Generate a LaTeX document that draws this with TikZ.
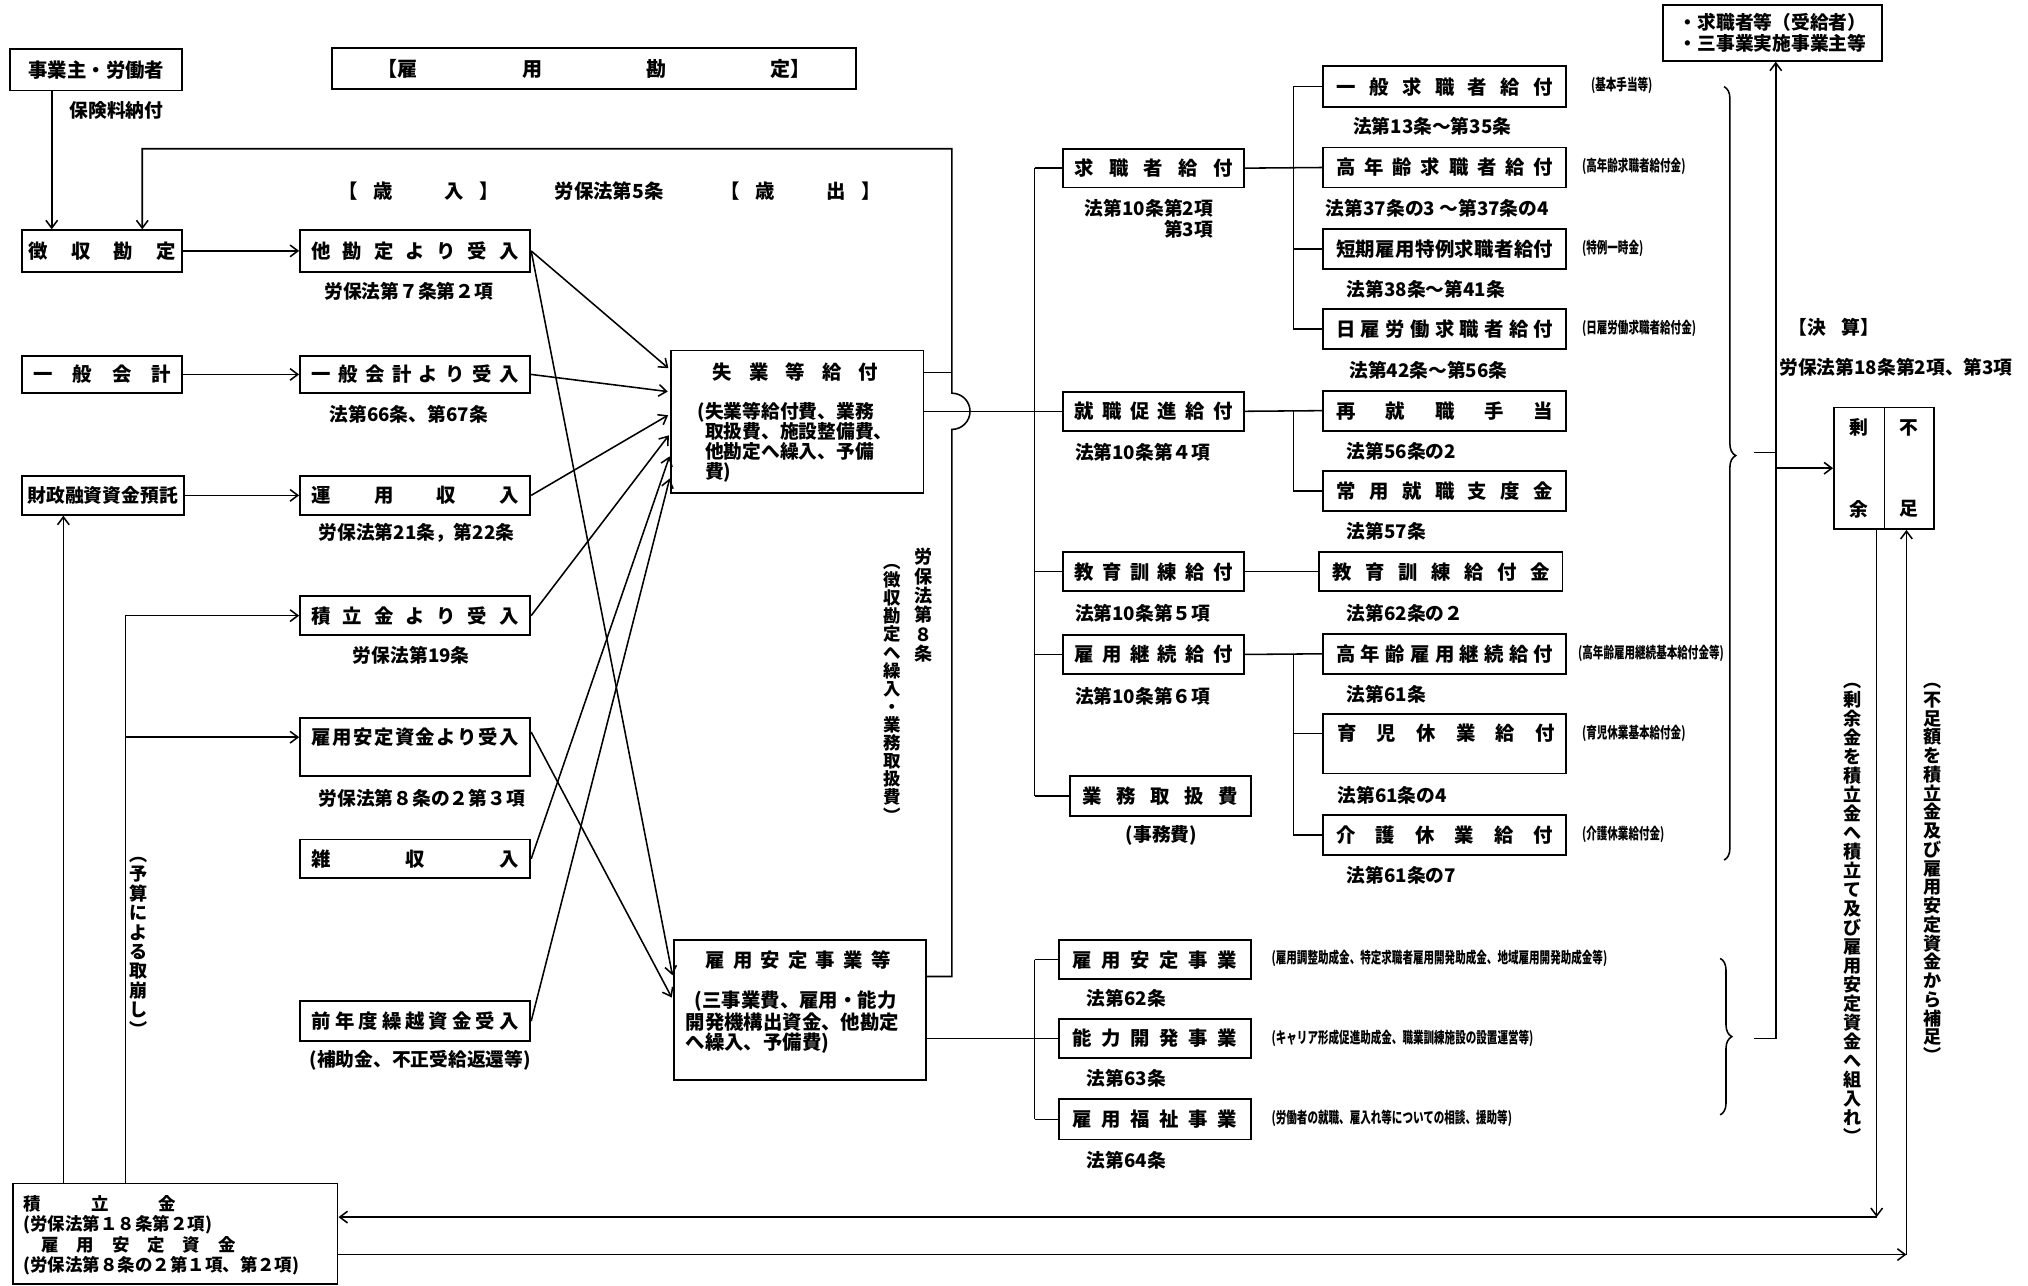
\documentclass[tikz,border=0pt]{standalone}
\usepackage{fontspec}
\setmainfont{Noto Sans CJK JP}
\usetikzlibrary{arrows.meta,decorations.pathreplacing,calc}
\def\spreadit#1{\spA#1\relax}
\def\spA#1{#1\spB}
\def\spB#1{\ifx#1\relax\else\hfill#1\expandafter\spB\fi}
\newcommand\spr[2]{\makebox[#1][s]{\spreadit{#2}}}
\def\vstA#1{\ifx#1\relax\else\hbox to 1em{\hss#1\hss}\expandafter\vstA\fi}
\newcommand\vtext[2]{\vbox{\baselineskip=#1\lineskiplimit=-100pt\lineskip=0pt\vstA#2\relax}}
\newcommand\bx[7][]{\node[bx,#1,minimum width={(#5-#3)*1pt},minimum height={(#6-#4)*1pt}] (#2) at ({(#3+#5)/2},{(#4+#6)/2}) {#7};}
\begin{document}
\bfseries
\begin{tikzpicture}[x=1pt,y=-1pt,
  bx/.style={draw,line width=1.4pt,inner sep=0pt,font=\fontsize{15}{18}\selectfont},
  lab/.style={inner sep=0pt,font=\fontsize{14.5}{16}\selectfont},
  ann/.style={inner sep=0pt,anchor=west,font=\fontsize{12}{12}\selectfont},
  vlab/.style={inner sep=0pt,font=\fontsize{14}{15}\selectfont},
  ln/.style={line width=1.2pt},
  arr/.style={line width=1.2pt,-{Straight Barb[length=6pt,width=9pt,line width=1.2pt]}},
]
\useasboundingbox (0,0) rectangle (1568,994);

% ---------- left column ----------
\bx{jg}{8}{38}{141}{70}{事業主・労働者}
\node[lab] (l_hoken) at (90,85) {保険料納付};
\bx[font=\fontsize{15.5}{18}\selectfont]{title}{257}{37}{662}{69}{\makebox[335pt][s]{【雇\hfill 用\hfill 勘\hfill 定】}}
\node[lab,font=\fontsize{15}{16}\selectfont] (l_sainyu) at (324,148) {\makebox[124pt][s]{【\hspace{12pt}歳\hfill 入\hspace{12pt}】}};
\node[lab,font=\fontsize{15}{16}\selectfont] (l_ro5) at (471,148) {労保法第5条};
\node[lab,font=\fontsize{15}{16}\selectfont] (l_saishutsu) at (619,148) {\makebox[124pt][s]{【\hspace{12pt}歳\hfill 出\hspace{12pt}】}};

\bx{choshu}{17}{178}{141}{210}{\spr{114pt}{徴収勘定}}
\bx{ippan}{17}{275}{141}{304}{\spr{106pt}{一般会計}}
\bx[font=\fontsize{14.5}{18}\selectfont]{zaisei}{17}{368}{142}{398}{\spr{117pt}{財政融資資金預託}}
\bx{tsumitate}{10}{915}{261}{993}{}
\node[inner sep=0pt,anchor=west,align=left,font=\fontsize{13.5}{15.7}\selectfont] (t_tsumitate) at (18,955) {\makebox[118pt][s]{積\hfill 立\hfill 金}\\(労保法第１８条第２項)\\\hspace{14pt}\makebox[150pt][s]{雇\hfill 用\hfill 安\hfill 定\hfill 資\hfill 金}\\(労保法第８条の２第１項、第２項)};

% ---------- revenue boxes ----------
\bx{takan}{232}{178}{410}{210}{\spr{160pt}{他勘定より受入}}
\node[lab] (s_takan) at (316,225) {労保法第７条第２項};
\bx{ippanju}{232}{275}{410}{304}{\spr{160pt}{一般会計より受入}}
\node[lab] (s_ippanju) at (316,320) {法第66条、第67条};
\bx{unyo}{232}{368}{410}{398}{\spr{160pt}{運用収入}}
\node[lab] (s_unyo) at (322,412) {労保法第21条，第22条};
\bx{tsumiju}{232}{461}{410}{491}{\spr{160pt}{積立金より受入}}
\node[lab] (s_tsumiju) at (318,507) {労保法第19条};
\bx{antei}{232}{555}{410}{600}{}
\node[inner sep=0pt,font=\fontsize{15}{18}\selectfont] (t_antei) at (321,570) {\spr{160pt}{雇用安定資金より受入}};
\node[lab] (s_antei) at (326,617) {労保法第８条の２第３項};
\bx{zatsu}{232}{649}{410}{679}{\spr{160pt}{雑収入}}
\bx{zennen}{232}{774}{410}{805}{\spr{160pt}{前年度繰越資金受入}}
\node[lab] (s_zennen) at (325,820) {(補助金、不正受給返還等)};

% ---------- expenditure boxes ----------
\bx{shitsu}{519}{271}{714}{381}{}
\node[inner sep=0pt,font=\fontsize{15}{18}\selectfont] (t_shitsu) at (615,288) {\spr{128pt}{失業等給付}};
\node[inner sep=0pt,anchor=west,align=left,font=\fontsize{14.5}{15.6}\selectfont] (b_shitsu) at (545,342) {\llap{(}失業等給付費、業務\\取扱費、施設整備費、\\他勘定へ繰入、予備\\費)};
\bx{koyoan}{521}{727}{716}{835}{}
\node[inner sep=0pt,font=\fontsize{15}{18}\selectfont] (t_koyoan) at (617,742) {\spr{143pt}{雇用安定事業等}};
\node[inner sep=0pt,anchor=west,align=left,font=\fontsize{15}{15.6}\selectfont] (b_koyoan) at (530,790) {\hspace{7pt}(三事業費、雇用・能力\\開発機構出資金、他勘定\\へ繰入、予備費)};

\node[vlab] (v_ro8) at (714,468) {\vtext{15pt}{労保法第８条}};
\node[vlab,font=\fontsize{13.5}{14}\selectfont] (v_choshu) at (690,536) {\vtext{14pt}{︵徴収勘定へ繰入・業務取扱費︶}};
\node[vlab] (v_yosan) at (107,732) {\vtext{15pt}{︵予算による取崩し︶}};

% ---------- column 2 ----------
\bx{kyushoku}{822}{115}{962}{145}{\spr{122pt}{求職者給付}}
\node[lab,anchor=east,align=right] (s_kyushoku) at (938,169) {法第10条第2項\\第3項};
\bx{shushoku}{822}{303}{962}{333}{\spr{122pt}{就職促進給付}}
\node[lab,anchor=west] (s_shushoku) at (831,350) {法第10条第４項};
\bx{kyoiku}{822}{427}{962}{457}{\spr{122pt}{教育訓練給付}}
\node[lab,anchor=west] (s_kyoiku) at (831,474) {法第10条第５項};
\bx{keizoku}{822}{491}{962}{521}{\spr{122pt}{雇用継続給付}}
\node[lab,anchor=west] (s_keizoku) at (831,538) {法第10条第６項};
\bx{gyomu}{827}{600}{967}{631}{\spr{120pt}{業務取扱費}}
\node[lab] (s_gyomu) at (898,646) {(事務費)};
\bx{anteijigyo}{819}{727}{967}{757}{\spr{127pt}{雇用安定事業}}
\node[lab,anchor=west] (s_anteijigyo) at (840,772) {法第62条};
\bx{noryoku}{819}{788}{967}{818}{\spr{127pt}{能力開発事業}}
\node[lab,anchor=west] (s_noryoku) at (840,834) {法第63条};
\bx{fukushi}{819}{850}{967}{881}{\spr{127pt}{雇用福祉事業}}
\node[lab,anchor=west] (s_fukushi) at (840,897) {法第64条};

% ---------- column 3 ----------
\bx{ippankyu}{1023}{51}{1211}{83}{\spr{168pt}{一般求職者給付}}
\node[lab,anchor=west] (s_ippankyu) at (1046,98) {法第13条～第35条};
\bx{koureikyu}{1023}{114}{1211}{145}{\spr{168pt}{高年齢求職者給付}}
\node[lab,anchor=west] (s_koureikyu) at (1025,161) {法第37条の3 ～第37条の4};
\bx{tanki}{1023}{177}{1211}{208}{\spr{168pt}{短期雇用特例求職者給付}}
\node[lab,anchor=west] (s_tanki) at (1041,224) {法第38条～第41条};
\bx{nichi}{1023}{239}{1211}{270}{\spr{168pt}{日雇労働求職者給付}}
\node[lab,anchor=west] (s_nichi) at (1043,286) {法第42条～第56条};
\bx{saishu}{1023}{302}{1211}{333}{\spr{168pt}{再就職手当}}
\node[lab,anchor=west] (s_saishu) at (1041,349) {法第56条の2};
\bx{joyo}{1023}{364}{1211}{395}{\spr{168pt}{常用就職支度金}}
\node[lab,anchor=west] (s_joyo) at (1041,411) {法第57条};
\bx{kyoikukin}{1020}{427}{1208}{457}{\spr{168pt}{教育訓練給付金}}
\node[lab,anchor=west] (s_kyoikukin) at (1041,474) {法第62条の２};
\bx{koukei}{1023}{490}{1211}{521}{\spr{168pt}{高年齢雇用継続給付}}
\node[lab,anchor=west] (s_koukei) at (1041,537) {法第61条};
\bx{ikuji}{1023}{552}{1211}{598}{}
\node[inner sep=0pt,font=\fontsize{15}{18}\selectfont] (t_ikuji) at (1118,567) {\spr{168pt}{育児休業給付}};
\node[lab,anchor=west] (s_ikuji) at (1034,615) {法第61条の4};
\bx{kaigo}{1023}{630}{1211}{661}{\spr{168pt}{介護休業給付}}
\node[lab,anchor=west] (s_kaigo) at (1041,677) {法第61条の7};

% annotations
\node[ann] (a1) at (1230,66) {\scalebox{0.68}[1]{(基本手当等)}};
\node[ann] (a2) at (1223,129) {\scalebox{0.68}[1]{(高年齢求職者給付金)}};
\node[ann] (a3) at (1223,192) {\scalebox{0.68}[1]{(特例一時金)}};
\node[ann] (a4) at (1223,254) {\scalebox{0.68}[1]{(日雇労働求職者給付金)}};
\node[ann] (a5) at (1220,505) {\scalebox{0.68}[1]{(高年齢雇用継続基本給付金等)}};
\node[ann] (a6) at (1223,567) {\scalebox{0.68}[1]{(育児休業基本給付金)}};
\node[ann] (a7) at (1223,645) {\scalebox{0.68}[1]{(介護休業給付金)}};
\node[ann] (a8) at (983,741) {\scalebox{0.68}[1]{(雇用調整助成金、特定求職者雇用開発助成金、地域雇用開発助成金等)}};
\node[ann] (a9) at (983,803) {\scalebox{0.68}[1]{(キャリア形成促進助成金、職業訓練施設の設置運営等)}};
\node[ann] (a10) at (983,865) {\scalebox{0.68}[1]{(労働者の就職、雇入れ等についての相談、援助等)}};

% ---------- right part ----------
\bx[align=left,font=\fontsize{14.5}{16.5}\selectfont]{kyuts}{1286}{4}{1455}{47}{・求職者等（受給者）\\・三事業実施事業主等}
\node[lab] (l_kessan) at (1418,253) {【決\hspace{12pt}算】};
\node[lab] (l_ro18) at (1466,284) {労保法第18条第2項、第3項};
\bx[align=center,font=\fontsize{14.5}{63}\selectfont]{jouyo}{1418}{315}{1457}{409}{剰\\余}
\bx[align=center,font=\fontsize{14.5}{63}\selectfont]{fusoku}{1457}{315}{1495}{409}{不\\足}
\node[vlab,font=\fontsize{14}{15}\selectfont] (v_jouyo) at (1432,706) {\vtext{14.7pt}{︵剰余金を積立金へ積立て及び雇用安定資金へ組入れ︶}};
\node[vlab,font=\fontsize{14}{15}\selectfont] (v_fusoku) at (1494,675) {\vtext{14.5pt}{︵不足額を積立金及び雇用安定資金から補足︶}};

\coordinate (br1t) at (1333,67);
\coordinate (br1b) at (1333,665);
\coordinate (br2t) at (1330,741);
\coordinate (br2b) at (1330,862);
\draw[ln,decorate,decoration={brace,amplitude=9pt,aspect=0.477}] (br1t) -- (br1b);
\draw[ln,decorate,decoration={brace,amplitude=9pt,aspect=0.5}] (br2t) -- (br2b);
\coordinate (tr1) at (1356,350);
\coordinate (tr2) at (1356,803);
\draw[ln] (tr1) -- (1373,350);
\draw[ln] (tr2) -- (1373,803);
\draw[arr] (1373,803) -- (1373,0 |- kyuts.south);
\draw[arr] (1373,362) -- (jouyo.west |- 0,362);

% ---------- connectors ----------
\draw[arr] (40,0 |- jg.south) -- (40,0 |- choshu.north);
\draw[arr] (choshu) -- (takan);
\draw[arr] (ippan) -- (ippanju);
\draw[arr] (zaisei) -- (unyo);
\draw[arr] (49,0 |- tsumitate.north) -- (49,0 |- zaisei.south);
\draw[ln] (97,0 |- tsumitate.north) -- (97,476);
\draw[arr] (97,476) -- (tsumiju.west);
\draw[arr] (97,570) -- (antei.west |- 0,570);

\draw[arr,shorten >=2pt] (takan.east) -- (shitsu.west |- 0,286);
\draw[arr,shorten >=2pt] (takan.east) -- (koyoan.west |- 0,756);
\draw[arr,shorten >=2pt] (ippanju.east) -- (shitsu.west |- 0,303);
\draw[arr,shorten >=2pt] (unyo.east) -- (shitsu.west |- 0,320);
\draw[arr,shorten >=2pt] (tsumiju.east) -- (shitsu.west |- 0,335);
\draw[arr,shorten >=2pt] (zatsu.east) -- (shitsu.west |- 0,351);
\draw[arr,shorten >=2pt] (zennen.east) -- (shitsu.west |- 0,368);
\draw[arr,shorten >=2pt] (antei.east |- 0,566) -- (koyoan.west |- 0,773);

% transfer loop back to choshu (with hop over)
\draw[arr] (koyoan.east |- 0,755) -- (736,755) -- (736,332) arc[start angle=-90,end angle=90,radius=14pt] -- (736,115) -- (110,115) -- (110,0 |- choshu.north);
\draw[ln] (shitsu.east |- 0,288) -- (736,288);

% expenditure tree
\draw[ln] (shitsu.east |- 0,318) -- (shushoku.west);
\draw[ln] (800,0 |- kyushoku) -- (800,0 |- gyomu);
\draw[ln] (800,0 |- kyushoku) -- (kyushoku.west);
\draw[ln] (800,0 |- kyoiku) -- (kyoiku.west);
\draw[ln] (800,0 |- keizoku) -- (keizoku.west);
\draw[ln] (800,0 |- gyomu) -- (gyomu.west);

\draw[ln] (kyushoku.east) -- (koureikyu.west);
\draw[ln] (1000,0 |- ippankyu) -- (1000,0 |- nichi);
\draw[ln] (1000,0 |- ippankyu) -- (ippankyu.west);
\draw[ln] (1000,0 |- tanki) -- (tanki.west);
\draw[ln] (1000,0 |- nichi) -- (nichi.west);

\draw[ln] (shushoku.east) -- (saishu.west);
\draw[ln] (1000,0 |- saishu) -- (1000,0 |- joyo);
\draw[ln] (1000,0 |- joyo) -- (joyo.west);

\draw[ln] (kyoiku.east) -- (kyoikukin.west);

\draw[ln] (keizoku.east) -- (koukei.west);
\draw[ln] (1000,0 |- koukei) -- (1000,0 |- kaigo);
\draw[ln] (1000,567) -- (ikuji.west |- 0,567);
\draw[ln] (1000,0 |- kaigo) -- (kaigo.west);

\draw[ln] (koyoan.east |- 0,803) -- (noryoku.west);
\draw[ln] (800,0 |- anteijigyo) -- (800,0 |- fukushi);
\draw[ln] (800,0 |- anteijigyo) -- (anteijigyo.west);
\draw[ln] (800,0 |- fukushi) -- (fukushi.west);

% settlement to reserves
\draw[arr] (1451,0 |- jouyo.south) -- (1451,941);
\draw[arr] (1451,941) -- (tsumitate.east |- 0,941);
\draw[arr] (tsumitate.east |- 0,970) -- (1474,970);
\draw[arr] (1474,970) -- (1474,0 |- fusoku.south);
\end{tikzpicture}
\end{document}
